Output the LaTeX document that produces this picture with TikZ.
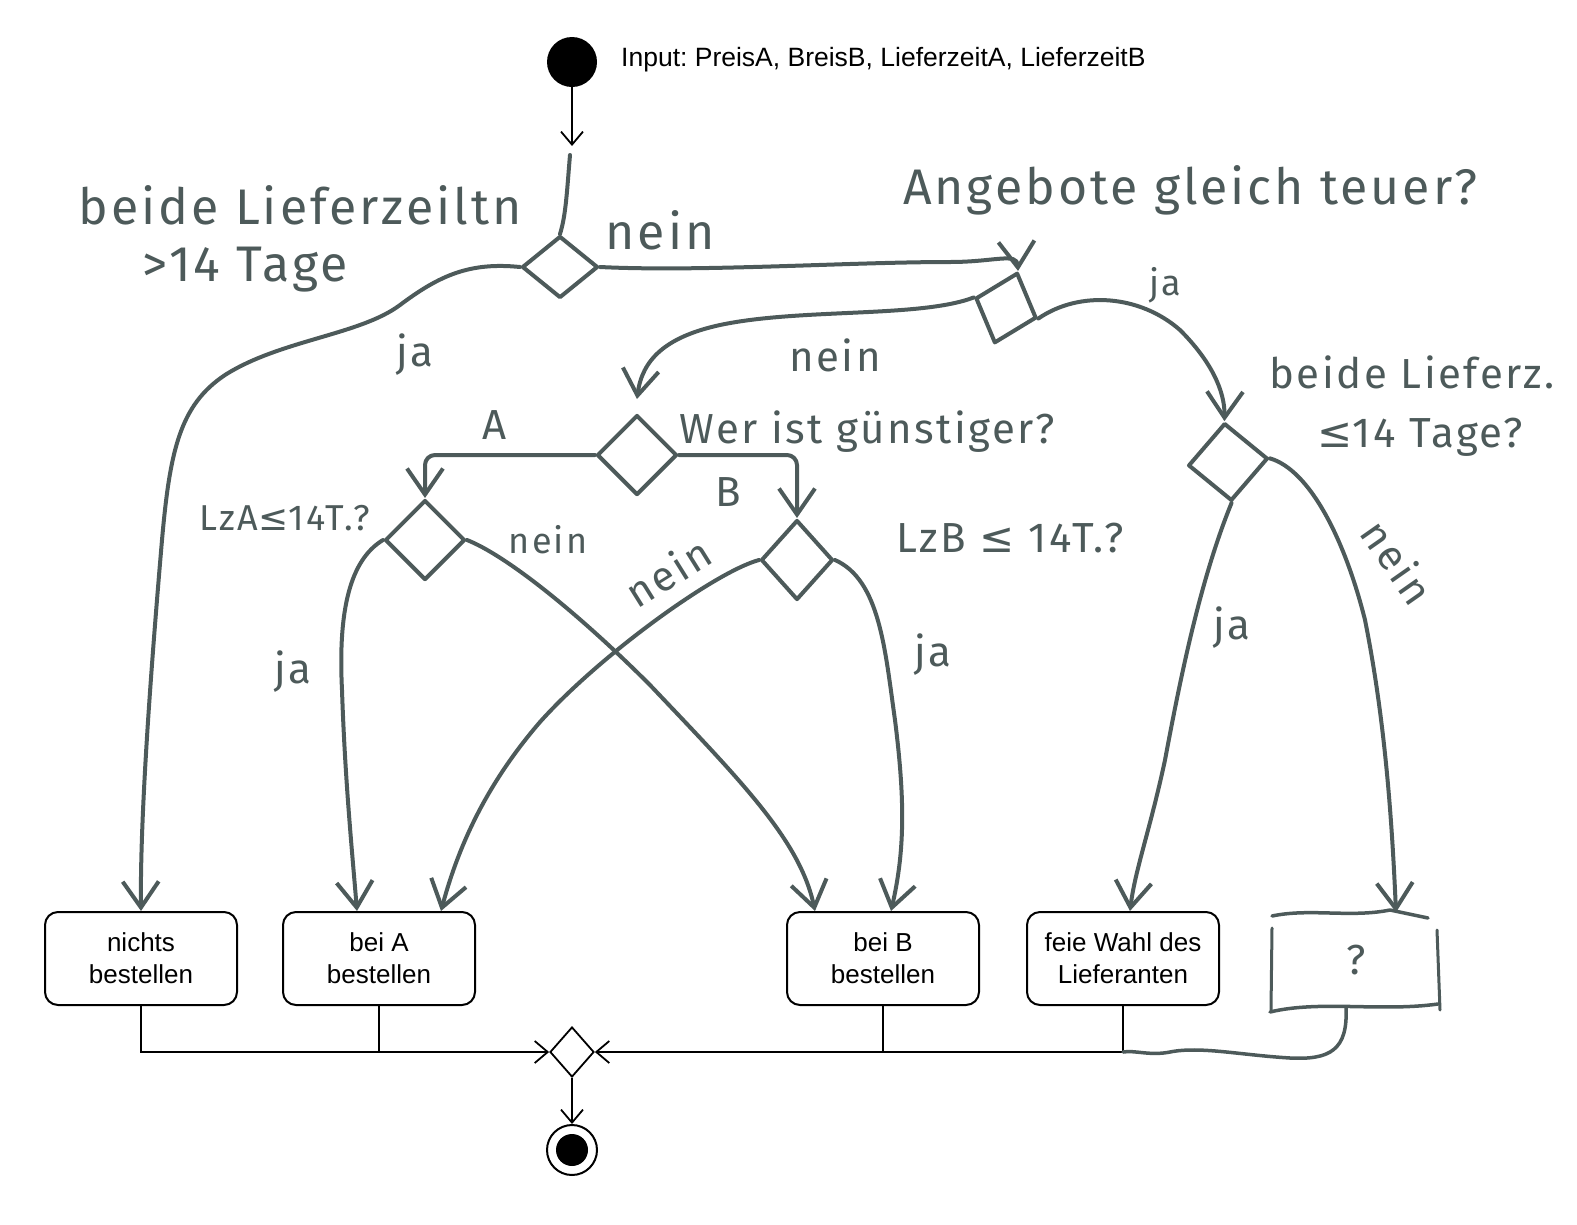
\documentclass[tikz,border=0pt]{standalone}
\usepackage{fontspec}
\setmainfont{Liberation Sans}
\newfontfamily\handfont[LetterSpace=6]{Fira Sans}
\newfontfamily\symfont{DejaVu Sans}
\usetikzlibrary{arrows.meta,shapes.geometric,calc}
\definecolor{hand}{HTML}{4D5A5A}
\newcommand{\lesym}{{\symfont ≤}}
\frenchspacing

\tikzset{
  handline/.style={draw=hand, line width=4pt, line cap=round, line join=round},
  handarrow/.style={handline, -{Straight Barb[length=26pt,width=36pt,line width=4pt]}},
  decision/.style={diamond, draw=hand, line width=4pt, inner sep=0pt, line join=round},
  action/.style={rectangle, rounded corners=13pt, draw, line width=2pt, minimum width=192pt,
    minimum height=93pt, align=center, font=\fontsize{26}{32}\selectfont},
  umlline/.style={draw, line width=1.8pt},
  umlarrow/.style={umlline, -{Straight Barb[length=13pt,width=22pt,line width=1.8pt]}},
  handbig/.style={text=hand, inner sep=0pt, font=\handfont\fontsize{50}{60}\selectfont},
  handmid/.style={text=hand, inner sep=0pt, font=\handfont\fontsize{42}{48}\selectfont},
  handsmall/.style={text=hand, inner sep=0pt, font=\handfont\fontsize{36}{40}\selectfont}
}

\begin{document}
\begin{tikzpicture}[x=1pt, y=-1pt]
  \useasboundingbox (0,0) rectangle (1577,1224);
  \def\boxy{958.5}

  % start and input
  \node[circle, fill, minimum size=50pt, inner sep=0pt] (start) at (572,62) {};
  \node[anchor=west, inner sep=0pt, font=\fontsize{26.5}{30}\selectfont] (input) at (621,60)
    {Input: PreisA, BreisB, LieferzeitA, LieferzeitB};
  \coordinate (entry) at (572,146);
  \coordinate (handstart) at (570,155);
  \draw[umlarrow] (start) -- (entry);

  % decisions (hand drawn)
  \node[decision, minimum width=76pt, minimum height=62pt] (both) at (560,267) {};
  \node[decision, minimum width=64pt, minimum height=74pt, rotate=-18] (equal) at (1006,308) {};
  \node[decision, minimum width=80pt, minimum height=80pt] (cheaper) at (637,455) {};
  \node[decision, minimum width=80pt, minimum height=80pt] (lza) at (425,540) {};
  \node[decision, minimum width=72pt, minimum height=80pt] (lzb) at (797,560) {};
  \node[decision, minimum width=80pt, minimum height=78pt, rotate=5] (bothshort) at (1228,462) {};

  % actions
  \node[action] (nichts) at (141,\boxy) {nichts\\bestellen};
  \node[action] (beiA) at (379,\boxy) {bei A\\bestellen};
  \node[action] (beiB) at (883,\boxy) {bei B\\bestellen};
  \node[action] (feie) at (1123,\boxy) {feie Wahl des\\Lieferanten};
  \node[minimum width=166pt, minimum height=95pt, handmid] (frage) at (1356,960) {?};

  % merge and final
  \node[diamond, draw, line width=1.8pt, minimum width=44pt, minimum height=50pt, inner sep=0pt] (merge) at (572,1052) {};
  \node[circle, draw, line width=2pt, minimum size=50pt, inner sep=0pt] (finish) at (572,1150) {};
  \node[circle, fill, minimum size=32pt, inner sep=0pt] (finishdot) at (finish) {};

  % question box outline
  \draw[handline, line width=3.5pt] (1272,916) .. controls (1310,908) and (1350,918) .. (1390,910) -- (1428,918);
  \draw[handline, line width=3pt] (1272,928) -- (1271,1010);
  \draw[handline, line width=3pt] (1437,930) -- (1440,1010);
  \draw[handline, line width=3.5pt] (1270,1012) .. controls (1320,1000) and (1380,1012) .. (1438,1004);

  % labels
  \node[handbig] (t1) at (300,205) {beide Lieferzeiltn};
  \node[handbig] (t2) at (245,270) {>14 Tage};
  \node[handbig] (t3) at (1190,190) {Angebote gleich teuer?};
  \node[handmid] (t4) at (867,432) {Wer ist günstiger?};
  \node[handmid] (t5) at (1412,372) {beide Lieferz.};
  \node[handmid] (t6) at (1420,437) {\lesym14 Tage?};
  \node[handsmall] (t7) at (285,518) {LzA\lesym14T.?};
  \node[handmid] (t8) at (1010,538) {LzB \lesym\ 14T.?};
  \node[handbig] (n1) at (660,230) {nein};
  \node[handmid] (n2) at (835,355) {nein};
  \node[handsmall] (n3) at (548,540) {nein};
  \node[handmid, rotate=32] (n4) at (668,572) {nein};
  \node[handmid, rotate=-55] (n5) at (1398,562) {nein};
  \node[handmid] (j1) at (415,355) {ja};
  \node[handsmall] (j2) at (1165,285) {ja};
  \node[handmid] (j3) at (293,672) {ja};
  \node[handmid] (j4) at (933,655) {ja};
  \node[handmid] (j5) at (1232,628) {ja};
  \node[handmid] (la) at (495,425) {A};
  \node[handmid] (lb) at (728,492) {B};

  % hand drawn flows
  \draw[handline] (handstart) .. controls (567,190) and (566,215) .. (both.north);
  \draw[handarrow] (both.east) .. controls (700,272) and (850,262) .. (950,262)
    .. controls (995,262) and (1017,252) .. (equal.north);
  \draw[handarrow] (both.west) .. controls (470,262) and (440,275) .. (400,305)
    .. controls (360,335) and (280,340) .. (225,375) .. controls (180,405) and (170,450) .. (162,540)
    .. controls (150,680) and (140,820) .. (nichts.north);
  \draw[handarrow] (equal.west) .. controls (920,318) and (800,308) .. (720,325)
    .. controls (665,337) and (642,360) .. ([yshift=14pt]cheaper.north);
  \draw[handarrow] (equal.east) .. controls (1080,290) and (1140,295) .. (1180,330)
    .. controls (1210,360) and (1225,390) .. (bothshort.north);
  \draw[handarrow, rounded corners=10pt] (cheaper.west) -| (lza.north);
  \draw[handarrow, rounded corners=10pt] (cheaper.east) -| (lzb.north);
  \draw[handarrow] (lza.west) .. controls (350,560) and (338,610) .. (342,690)
    .. controls (345,780) and (352,850) .. ([xshift=-22pt]beiA.north);
  \draw[handarrow] (lza.east) .. controls (505,555) and (575,610) .. (650,685)
    .. controls (740,780) and (800,840) .. ([xshift=-68pt]beiB.north);
  \draw[handarrow] (lzb.west) .. controls (715,572) and (600,655) .. (540,722)
    .. controls (490,780) and (460,840) .. ([xshift=62pt]beiA.north);
  \draw[handarrow] (lzb.east) .. controls (880,580) and (885,650) .. (895,720)
    .. controls (905,800) and (905,850) .. ([xshift=8pt]beiB.north);
  \draw[handarrow] (bothshort.south) .. controls (1200,580) and (1180,680) .. (1165,760)
    .. controls (1150,830) and (1135,870) .. ([xshift=7pt]feie.north);
  \draw[handarrow] (bothshort.east) .. controls (1310,470) and (1345,540) .. (1365,620)
    .. controls (1385,720) and (1392,820) .. ([xshift=40pt]frage.north);

  % joins to merge
  \draw[umlarrow] (nichts.south) |- (merge.west);
  \draw[umlarrow] (feie.south) |- (merge.east);
  \foreach \act in {beiA,beiB}
    \draw[umlline] (\act.south) -- (\act.south |- merge.west);
  \draw[handline, line width=3.5pt] ([xshift=-10pt]frage.south) .. controls (1348,1050) and (1330,1060) .. (1290,1058)
    .. controls (1240,1055) and (1200,1046) .. (1170,1052) .. controls (1150,1056) and (1135,1050) .. (feie.south |- merge.east);
  \draw[umlarrow] (merge.south) -- (finish.north);
\end{tikzpicture}
\end{document}
